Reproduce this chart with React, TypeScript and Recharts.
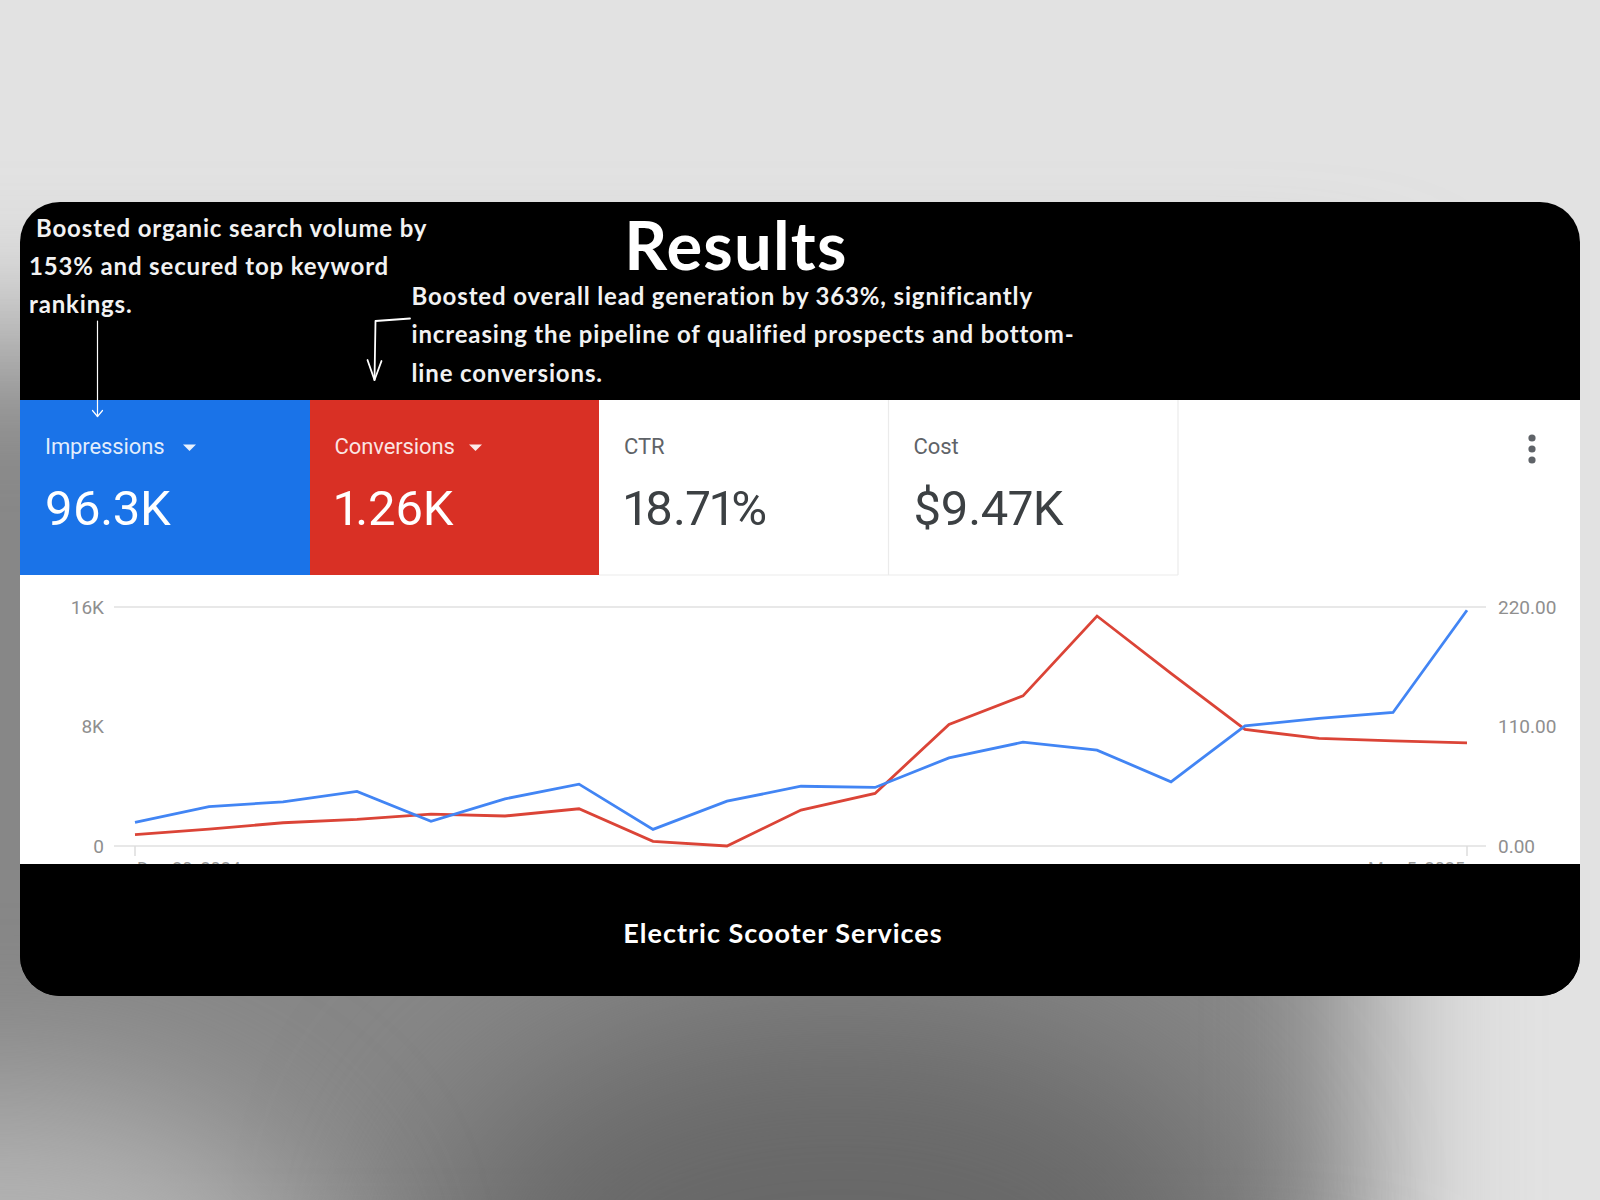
import React from 'react';
import { LineChart, Line, XAxis, YAxis, CartesianGrid } from 'recharts';

const weeks = [
  'Dec 30, 2024', 'Jan 6, 2025', 'Jan 13, 2025', 'Jan 20, 2025', 'Jan 27, 2025',
  'Feb 3, 2025', 'Feb 10, 2025', 'Feb 17, 2025', 'Feb 24, 2025', 'Mar 3, 2025',
  'Mar 10, 2025', 'Mar 17, 2025', 'Mar 24, 2025', 'Mar 31, 2025', 'Apr 7, 2025',
  'Apr 14, 2025', 'Apr 21, 2025', 'Apr 28, 2025', 'May 5, 2025',
];
const impressions = [
  1580, 2630, 2960, 3660, 1650, 3160, 4140, 1110, 3000, 4000,
  3920, 5900, 6950, 6420, 4300, 8040, 8540, 8940, 15780,
];
const conversions = [
  10.4, 15.6, 21.4, 24.5, 29.4, 27.6, 34.3, 4.3, 0, 33.1,
  48.4, 111.9, 138.2, 211.7, 159, 107.3, 99, 96.8, 95,
];
const leftTicks = [0, 8000, 16000];
const rightTicks = [0, 110, 220];
const xTicks = [weeks[0], weeks[weeks.length - 1]];

const metricLabels = ['Impressions', 'Conversions', 'CTR', 'Cost'];
const metricValues = ['96.3K', '1.26K', '18.71%', '$9.47K'];

const titleText = 'Results';
const note1 = ['Boosted organic search volume by', '153% and secured top keyword', 'rankings.'];
const note2 = [
  'Boosted overall lead generation by 363%, significantly',
  'increasing the pipeline of qualified prospects and bottom-',
  'line conversions.',
];
const footerText = 'Electric Scooter Services';

const data = weeks.map((w, i) => ({ week: w, impressions: impressions[i], conversions: conversions[i] }));

const BLUE_LINE = '#4285f4';
const RED_LINE = '#db4437';
const TILE_COLORS = ['#1a73e8', '#d93025', '#ffffff', '#ffffff'];

const fmtLeft = (v: number) => (v === 0 ? '0' : `${v / 1000}K`);
const fmtRight = (v: number) => v.toFixed(2);

const XTick = (props: any) => {
  const { x, y, payload } = props;
  const first = payload.value === weeks[0];
  return (
    <text x={first ? x + 2 : x - 2} y={y} dy="0.71em" textAnchor={first ? 'start' : 'end'}
      fill="#9a9a9a" fontSize={18} fontFamily="Roboto">
      {payload.value}
    </text>
  );
};

export default function App() {
  const cardLeft = 20;
  const cardTop = 202;
  const cardW = 1560;
  const cardH = 794;
  const tileW = 289.5;
  const caretX = [183, 469];
  return (
    <div style={{ position: 'absolute', left: 0, top: 0, width: 1600, height: 1200, overflow: 'hidden', background: '#e2e2e2' }}>
      {/* shadow layers */}
      <div style={{ position: 'absolute', left: -250, top: 340, width: 1620, height: 1000, background: '#878787', filter: 'blur(75px)' }} />
      <div style={{ position: 'absolute', left: 430, top: 1010, width: 820, height: 500, borderRadius: '50%', background: '#686868', filter: 'blur(90px)' }} />
      <div style={{ position: 'absolute', left: -320, top: 1090, width: 640, height: 420, borderRadius: '50%', background: '#b4b4b4', filter: 'blur(80px)' }} />
      {/* card */}
      <div style={{ position: 'absolute', left: cardLeft, top: cardTop, width: cardW, height: cardH, borderRadius: 40, overflow: 'hidden', background: '#000' }}>
        <div style={{ position: 'absolute', left: 0, top: 198, width: cardW, height: 466, background: '#fff' }} />
        {TILE_COLORS.map((c, i) => (
          <div key={i} style={{ position: 'absolute', left: i * tileW, top: 198, width: tileW, height: 175, background: c }} />
        ))}
        <div style={{ position: 'absolute', left: 0, top: 373 }}>
          <LineChart width={cardW} height={320} data={data} margin={{ top: 32, right: 34, bottom: 19, left: 34 }}>
            <CartesianGrid vertical={false} stroke="#e8e8e8" strokeWidth={2} />
            <XAxis dataKey="week" ticks={xTicks} interval={0} axisLine={false} tickLine={{ stroke: '#dddddd', strokeWidth: 1.5 }}
              tickSize={10} tickMargin={6} height={30} padding={{ left: 21, right: 19 }} tick={<XTick />} />
            <YAxis yAxisId="left" orientation="left" domain={[0, 16000]} ticks={leftTicks} tickFormatter={fmtLeft}
              axisLine={false} tickLine={false} tickSize={0} tickMargin={10} width={60}
              tick={{ fill: '#8f8f8f', fontSize: 19, fontFamily: 'Roboto' }} />
            <YAxis yAxisId="right" orientation="right" domain={[0, 220]} ticks={rightTicks} tickFormatter={fmtRight}
              axisLine={false} tickLine={false} tickSize={0} tickMargin={12} width={60}
              tick={{ fill: '#8f8f8f', fontSize: 19, fontFamily: 'Roboto', textAnchor: 'start' }} />
            <Line yAxisId="right" type="linear" dataKey="conversions" stroke={RED_LINE} strokeWidth={2.8} dot={false} isAnimationActive={false} />
            <Line yAxisId="left" type="linear" dataKey="impressions" stroke={BLUE_LINE} strokeWidth={2.8} dot={false} isAnimationActive={false} />
          </LineChart>
        </div>
        <div style={{ position: 'absolute', left: 0, top: 662, width: cardW, height: 132, background: '#000' }} />
      </div>
      {/* overlay text & decorations */}
      <svg width={1600} height={1200} style={{ position: 'absolute', left: 0, top: 0, pointerEvents: 'none' }}>
        <text x={736} y={270} textAnchor="middle" fill="#ffffff" fontFamily="Lato" fontWeight={700} fontSize={67} letterSpacing={1.2}>{titleText}</text>
        {note1.map((t, i) => (
          <text key={i} x={i === 0 ? 36 : 29} y={236.7 + i * 38.2} fill="#f2f2f2" fontFamily="Lato" fontWeight={700} fontSize={24} letterSpacing={0.85}>{t}</text>
        ))}
        {note2.map((t, i) => (
          <text key={i} x={411.5} y={305 + i * 38.3} fill="#f2f2f2" fontFamily="Lato" fontWeight={700} fontSize={24} letterSpacing={0.85}>{t}</text>
        ))}
        <g stroke="#ffffff" fill="none" strokeLinecap="round" strokeLinejoin="round">
          <line x1={97.5} y1={321} x2={97.5} y2={416.5} strokeWidth={1.2} />
          <polyline points="92.5,410.5 97.5,416.5 102.5,410.5" strokeWidth={1.2} />
          <polyline points="410,318.5 375.5,321 374.5,380" strokeWidth={1.8} />
          <polyline points="367.5,360 374.5,380 381.5,361" strokeWidth={1.8} />
        </g>
        {metricLabels.map((t, i) => {
          const x = cardLeft + i * tileW + 25;
          const dark = i >= 2;
          return (
            <g key={i}>
              <text x={x} y={454} fill={dark ? '#5f6368' : 'rgba(255,255,255,0.88)'} fontFamily="Roboto" fontSize={22} letterSpacing={-0.1}>{t}</text>
              <text x={x} y={525} fill={dark ? '#3c4043' : '#ffffff'} fontFamily="Roboto" fontSize={49} letterSpacing={-0.4}
                style={{ fontVariantNumeric: 'proportional-nums' }}>{metricValues[i]}</text>
            </g>
          );
        })}
        {caretX.map((cx, i) => (
          <polygon key={i} points={`${cx},444.5 ${cx + 13},444.5 ${cx + 6.5},451`} fill="rgba(255,255,255,0.9)" />
        ))}
        <g stroke="#ebebeb" strokeWidth={1.2}>
          <line x1={cardLeft + 3 * tileW} y1={400} x2={cardLeft + 3 * tileW} y2={575} />
          <line x1={cardLeft + 4 * tileW} y1={400} x2={cardLeft + 4 * tileW} y2={575} />
          <line x1={cardLeft + 2 * tileW} y1={575} x2={cardLeft + 4 * tileW} y2={575} />
        </g>
        {[438, 449, 460].map((cy, i) => (
          <circle key={i} cx={1532} cy={cy} r={3.6} fill="#5f6368" />
        ))}
        <text x={783} y={943} textAnchor="middle" fill="#ffffff" fontFamily="Lato" fontWeight={700} fontSize={27} letterSpacing={1}>{footerText}</text>
      </svg>
    </div>
  );
}
